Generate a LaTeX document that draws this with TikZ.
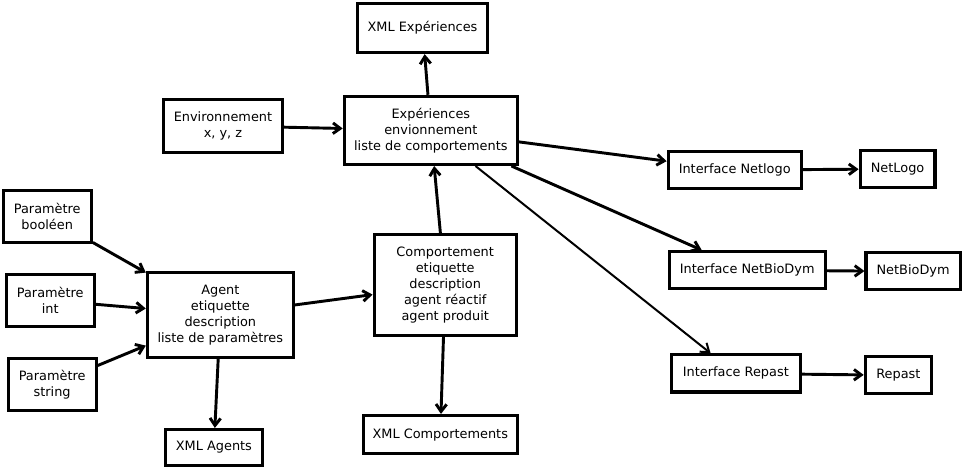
\documentclass[tikz,border=0pt]{standalone}
\usepackage{fontspec}
\setmainfont{DejaVu Sans}
\usepackage{tikz}
\usetikzlibrary{arrows, arrows.meta, positioning}
\tikzstyle{bloc} = [rectangle, text centered, align=center, draw=black, fill=none, line width=2.4pt, inner sep=2pt]
\tikzstyle{param} = [bloc, minimum width=2.33cm, minimum height=1.38cm]
\tikzstyle{iface} = [bloc, minimum height=0.98cm]
\tikzstyle{arrow} = [line width=2.2pt,->,>={Straight Barb[length=5.5pt,width=8pt]}]
\tikzstyle{thinarrow} = [line width=1.5pt,->,>={Straight Barb[length=6pt,width=8.5pt]}]

\begin{document}
\begin{tikzpicture}[node distance=2cm, font=\fontsize{9.7}{12}\selectfont]
        \useasboundingbox (-11.40,3.45) rectangle (14.08,-8.99);
        \node (exp) [bloc, minimum width=4.58cm, minimum height=1.80cm] {Expériences\\envionnement\\liste de comportements};
        \node (xmlexp) [bloc, minimum width=3.44cm, minimum height=1.30cm, above of=exp, yshift=0.71cm, xshift=-0.22cm] {XML Expériences};
        \node (env) [bloc, minimum width=3.15cm, minimum height=1.40cm, left of=exp, xshift=-3.5cm, yshift=0.12cm] {Environnement\\x, y, z};
        \node (comp) [bloc, minimum width=3.76cm, minimum height=2.67cm, below of=exp, yshift=-2.09cm, xshift=0.38cm] {Comportement\\etiquette\\description\\agent réactif\\agent produit};
        \node (xmlcomp) [bloc, minimum width=4.07cm, minimum height=1.01cm, below of=comp, yshift=-1.96cm, xshift=-0.13cm] {XML Comportements};
        \node (agent) [bloc, minimum width=3.86cm, minimum height=2.25cm, left of=comp, xshift=-3.95cm, yshift=-0.79cm] {Agent\\etiquette\\description\\liste de paramètres};
        \node (xmlagents) [bloc, minimum width=2.57cm, minimum height=0.95cm, below of=agent, yshift=-1.51cm, xshift=-0.17cm] {XML Agents};
        \node (pint) [param, left of=agent, xshift=-2.5cm, yshift=0.38cm] {Paramètre\\int};
        \node (pbool) [param, above of=pint, yshift=0.22cm, xshift=-0.08cm] {Paramètre\\booléen};
        \node (pstring) [param, below of=pint, yshift=-0.22cm, xshift=0.05cm] {Paramètre\\string};

        \node (inetlogo) [iface, minimum width=3.52cm, right of=exp, xshift=6.04cm, yshift=-1.05cm] {Interface Netlogo};
        \node (inetbio) [iface, minimum width=4.13cm, below of=inetlogo, yshift=-0.65cm, xshift=0.33cm] {Interface NetBioDym};
        \node (irepast) [iface, minimum width=3.41cm, below of=inetbio, yshift=-0.73cm, xshift=-0.3cm] {Interface Repast};
        \node (netlogo) [iface, minimum width=1.98cm, right of=inetlogo, xshift=2.31cm, yshift=0.03cm] {NetLogo};
        \node (netbio) [iface, minimum width=2.49cm, right of=inetbio, xshift=2.39cm, yshift=-0.03cm] {NetBioDym};
        \node (repast) [iface, minimum width=1.75cm, right of=irepast, xshift=2.3cm, yshift=-0.05cm] {Repast};


        \draw [arrow] (env) -- (exp);
        \draw [arrow] (exp) -- (xmlexp);
        \draw [arrow] (pbool) -- (agent);
        \draw [arrow] (pint) -- (agent);
        \draw [arrow] (pstring) -- (agent);
        \draw [arrow] (agent) -- (comp);
        \draw [arrow] (agent) -- (xmlagents);
        \draw [arrow] (comp) -- (xmlcomp);
        \draw [arrow] (comp) -- (exp);
        \draw [arrow] (exp) -- (inetlogo);
        \draw [arrow] (exp) -- (inetbio);
        \draw [thinarrow] (exp) -- (irepast);
        \draw [arrow] (inetlogo) -- (netlogo);
        \draw [arrow] (inetbio) -- (netbio);
        \draw [arrow] (irepast) -- (repast);


    \end{tikzpicture}
\end{document}
